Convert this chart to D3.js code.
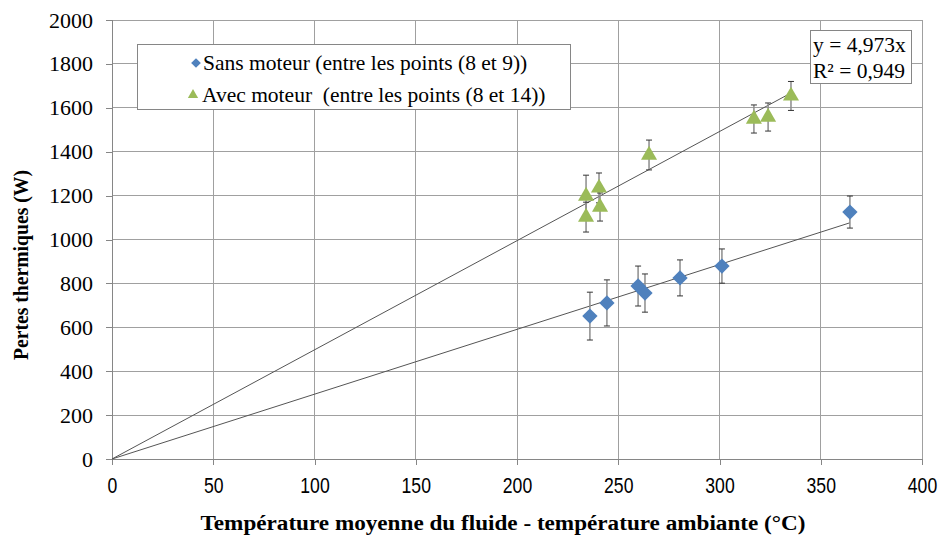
<!DOCTYPE html>
<html><head><meta charset="utf-8">
<script src="https://cdn.jsdelivr.net/npm/d3@7"></script>
<style>body{margin:0;background:#fff}svg{display:block}</style>
</head><body><svg id="c" width="943" height="535"></svg>
<script>
// ---- data ----
const sansX   = [236.0, 244.4, 259.8, 263.2, 280.5, 301.2, 364.4];
const sansY   = [651, 711, 788, 756, 825, 879, 1125];
const sansErr = [109, 105, 91, 87, 82, 78, 73];
const avecX   = [234.1, 234.1, 240.5, 241.0, 265.2, 317.0, 324.0, 335.3];
const avecY   = [1198, 1102, 1235, 1148, 1385, 1549, 1558, 1654];
const avecErr = [95, 68, 68, 64, 68, 64, 64, 66];
const avecSlope = 4.973;
const xTicks = [0, 50, 100, 150, 200, 250, 300, 350, 400];
const yTicks = [0, 200, 400, 600, 800, 1000, 1200, 1400, 1600, 1800, 2000];
const seriesNames = ["Sans moteur (entre les points (8 et 9))", "Avec moteur\u00a0 (entre les points (8 et 14))"];
const eqLines = ["y = 4,973x", "R\u00b2 = 0,949"];
const xTitle = "Température moyenne du fluide - température ambiante (°C)";
const yTitle = "Pertes thermiques (W)";

// ---- drawing ----
const svg = d3.select("#c");
const L = 112, R = 922, T = 20, B = 459;
const x = d3.scaleLinear().domain([0, 400]).range([L, R]);
const y = d3.scaleLinear().domain([0, 2000]).range([B, T]);
const serif = "Liberation Serif, Times New Roman, serif";
const sans = "Liberation Sans, Arial, sans-serif";
const blue = "#4F81BD", green = "#9BBB59";

// gridlines
svg.append("g").selectAll("line").data(yTicks.slice(1)).join("line")
  .attr("x1", L).attr("x2", R).attr("y1", d => y(d)).attr("y2", d => y(d))
  .attr("stroke", "#a0a0a0").attr("stroke-width", 1).attr("shape-rendering", "crispEdges");
svg.append("g").selectAll("line").data(xTicks.slice(1)).join("line")
  .attr("y1", T).attr("y2", B).attr("x1", d => x(d)).attr("x2", d => x(d))
  .attr("stroke", "#a0a0a0").attr("stroke-width", 1).attr("shape-rendering", "crispEdges");

// axes
const yAxis = svg.append("g").attr("transform", `translate(${L},0)`)
  .call(d3.axisLeft(y).tickValues(yTicks).tickSize(6).tickPadding(13).tickFormat(d3.format("d")));
yAxis.attr("font-family", serif).attr("font-size", 22);
yAxis.selectAll("text").attr("fill", "#000");
const xAxis = svg.append("g").attr("transform", `translate(0,${B})`)
  .call(d3.axisBottom(x).tickValues(xTicks).tickSize(6).tickPadding(12).tickFormat(d3.format("d")));
xAxis.attr("font-family", sans).attr("font-size", 22);
xAxis.selectAll("text").attr("fill", "#000").attr("transform", "scale(0.8,1)");
[yAxis, xAxis].forEach(a => {
  a.select(".domain").attr("stroke", "#868686").attr("shape-rendering", "crispEdges");
  a.selectAll(".tick line").attr("stroke", "#868686").attr("shape-rendering", "crispEdges");
});

// trendlines
const sansSlope = d3.sum(sansX, (v, i) => v * sansY[i]) / d3.sum(sansX, v => v * v);
const trends = [[sansSlope, d3.max(sansX)], [avecSlope, d3.max(avecX)]];
svg.append("g").selectAll("line").data(trends).join("line")
  .attr("x1", x(0)).attr("y1", y(0))
  .attr("x2", d => x(d[1])).attr("y2", d => y(d[0] * d[1]))
  .attr("stroke", "#555").attr("stroke-width", 1);

// error bars + markers
function series(xs, ys, es, sym, color, size) {
  const g = svg.append("g");
  const data = xs.map((v, i) => ({x: v, y: ys[i], e: es[i]}));
  const eb = g.selectAll("g.eb").data(data).join("g");
  eb.append("line").attr("x1", d => x(d.x)).attr("x2", d => x(d.x))
    .attr("y1", d => y(d.y - d.e)).attr("y2", d => y(d.y + d.e))
    .attr("stroke", "#8c8c8c").attr("stroke-width", 1.5);
  [-1, 1].forEach(s => eb.append("line")
    .attr("x1", d => x(d.x) - 3).attr("x2", d => x(d.x) + 3)
    .attr("y1", d => y(d.y + s * d.e)).attr("y2", d => y(d.y + s * d.e))
    .attr("stroke", "#333").attr("stroke-width", 1));
  g.selectAll("path.m").data(data).join("path")
    .attr("d", d3.symbol().type(sym).size(size))
    .attr("transform", d => `translate(${x(d.x)},${y(d.y)})`)
    .attr("fill", color);
}
series(sansX, sansY, sansErr, d3.symbolDiamond2, blue, 150);
series(avecX, avecY, avecErr, d3.symbolTriangle2, green, 185);

// legend
const lg = svg.append("g").attr("font-family", serif).attr("font-size", 21.5);
lg.append("rect").attr("x", 137.5).attr("y", 44.5).attr("width", 433).attr("height", 65)
  .attr("fill", "#fff").attr("stroke", "#868686");
const legItems = [[d3.symbolDiamond2, blue, 196, 63, 60, 203], [d3.symbolTriangle2, green, 193, 95, 75, 202]];
legItems.forEach((it, i) => {
  lg.append("path").attr("d", d3.symbol().type(it[0]).size(it[4])).attr("fill", it[1])
    .attr("transform", `translate(${it[2]},${it[3]})`);
  lg.append("text").attr("x", it[5]).attr("y", it[3] + 7).text(seriesNames[i]);
});

// equation box
const eq = svg.append("g").attr("font-family", serif).attr("font-size", 21.5);
eq.append("rect").attr("x", 810.5).attr("y", 30.5).attr("width", 101).attr("height", 53)
  .attr("fill", "#fff").attr("stroke", "#868686");
eqLines.forEach((t, i) => eq.append("text").attr("x", 813).attr("y", 52 + i * 26).text(t));

// titles
svg.append("text").attr("x", 503).attr("y", 530).attr("text-anchor", "middle")
  .attr("font-family", serif).attr("font-weight", "bold").attr("font-size", 20)
  .attr("textLength", 605).attr("lengthAdjust", "spacingAndGlyphs").text(xTitle);
svg.append("text").attr("transform", "translate(28,265) rotate(-90)").attr("text-anchor", "middle")
  .attr("font-family", serif).attr("font-weight", "bold").attr("font-size", 20)
  .attr("textLength", 190).attr("lengthAdjust", "spacingAndGlyphs").text(yTitle);
</script></body></html>
